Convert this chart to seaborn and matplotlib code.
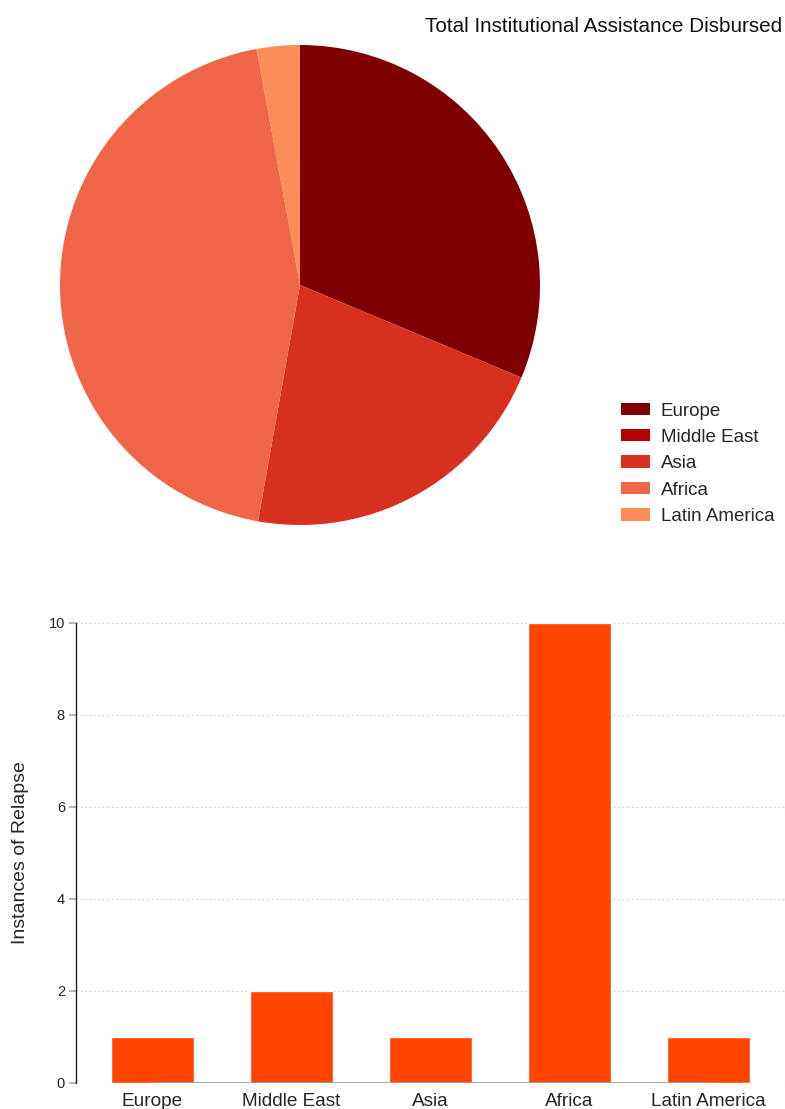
import matplotlib
matplotlib.use("Agg")
import matplotlib.pyplot as plt
import seaborn as sns

# ── Data ────────────────────────────────────────────────
regions = ["Europe", "Middle East", "Asia", "Africa", "Latin America"]
assistance = [31.3, 0.0, 21.5, 44.3, 2.9]
relapses = [1, 2, 1, 10, 1]
y_ticks = [0, 2, 4, 6, 8, 10]

pie_colors = ["#7f0000", "#b30000", "#d7301f", "#ef6548", "#fc8d59"]
bar_color = "#ff4500"

# ── Style ────────────────────────────────────────────────
sns.set_theme(style="white")
plt.rcParams["font.family"] = ["Liberation Sans", "DejaVu Sans"]

W, H = 785, 1109
fig = plt.figure(figsize=(W / 100, H / 100), dpi=100)

# ── Pie ─────────────────────────────────────────────────
cx, cy, r = 300, 285, 240
ax_pie = fig.add_axes([(cx - r) / W, (H - cy - r) / H, 2 * r / W, 2 * r / H])
wedges, _ = ax_pie.pie(assistance, colors=pie_colors, startangle=90,
                       counterclock=False, radius=1,
                       wedgeprops=dict(linewidth=0))
ax_pie.set_xlim(-1, 1)
ax_pie.set_ylim(-1, 1)
ax_pie.set_aspect("equal")
ax_pie.axis("off")

fig.text(782 / W, 1 - 27 / H, "Total Institutional Assistance Disbursed",
         ha="right", va="center", fontsize=14.9, color="#111111")

fig.legend(wedges, regions, loc="upper left",
           bbox_to_anchor=(613 / W, 1 - 395 / H), frameon=False,
           fontsize=13.5, handlelength=1.55, handleheight=0.64,
           handletextpad=0.6, labelspacing=0.5, borderaxespad=0)

# ── Bars ────────────────────────────────────────────────
top, bottom, left = 623, 1083, 76
ax = fig.add_axes([left / W, (H - bottom) / H, (W - left) / W, (bottom - top) / H])
sns.barplot(x=regions, y=relapses, color=bar_color, width=0.6,
            saturation=1, ax=ax, zorder=3)
ax.set_xlim(-0.55, len(regions) - 0.45)
ax.set_ylim(0, 10)
ax.set_yticks(y_ticks)
ax.yaxis.grid(True, linestyle=(0, (1, 3)), color="#bbbbbb", linewidth=0.8)
ax.set_axisbelow(True)
ax.hlines(0, 0, len(regions) - 1, color="#999999", linewidth=1.2, zorder=4)

for s in ["top", "right", "bottom"]:
    ax.spines[s].set_visible(False)
ax.spines["left"].set_color("#222222")
ax.spines["left"].set_linewidth(1)
ax.tick_params(axis="y", length=5, color="#aaaaaa", labelsize=10.5,
               left=True, pad=3)
ax.tick_params(axis="x", length=0, labelsize=13.7, pad=7)
ax.set_xlabel("")
ax.set_ylabel("Instances of Relapse", fontsize=14, labelpad=14)

plt.savefig("out.png", dpi=100)
plt.close()
